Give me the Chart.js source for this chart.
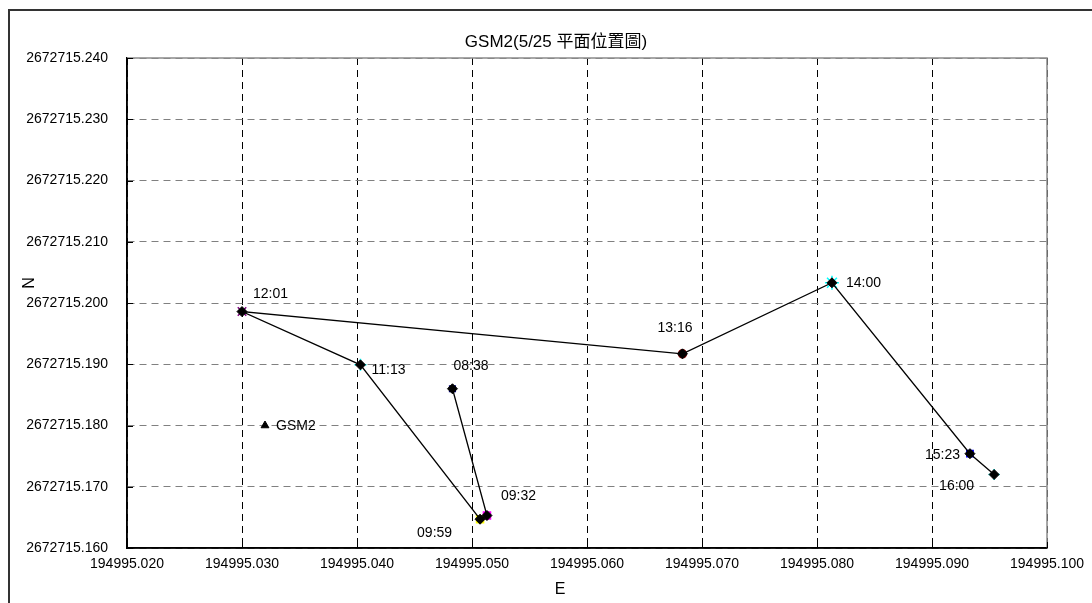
<!DOCTYPE html>
<html>
<head>
<meta charset="utf-8">
<title>GSM2(5/25 平面位置圖)</title>
<script src="https://cdn.jsdelivr.net/npm/chart.js@4/dist/chart.umd.min.js"></script>
<style>
  html, body { margin: 0; padding: 0; background: #fff; }
  #wrap { width: 1092px; height: 603px; }
</style>
</head>
<body>
<div id="wrap"><canvas id="c" width="1092" height="603"></canvas></div>
<script>
// Survey readings of GSM2 on 5/25, in time order
const timeLabels = ['08:38', '09:32', '09:59', '11:13', '12:01', '13:16', '14:00', '15:23', '16:00'];
const eastings   = [194995.0483, 194995.0513, 194995.0507, 194995.0403, 194995.0300, 194995.0683, 194995.0813, 194995.0933, 194995.0954];
const northings  = [2672715.1860, 2672715.1653, 2672715.1647, 2672715.1899, 2672715.1986, 2672715.1917, 2672715.2033, 2672715.1754, 2672715.1720];

// Reference station
const stationName = 'GSM2';
const stationE = 194995.0320;
const stationN = 2672715.1800;

// Axis ticks
const xTickValues = [194995.020, 194995.030, 194995.040, 194995.050, 194995.060, 194995.070, 194995.080, 194995.090, 194995.100];
const yTickValues = [2672715.160, 2672715.170, 2672715.180, 2672715.190, 2672715.200, 2672715.210, 2672715.220, 2672715.230, 2672715.240];

const chartTitle = 'GSM2(5/25 平面位置圖)';
const xTitle = 'E';
const yTitle = 'N';

const FONT = "'Liberation Sans', Arial, 'Noto Sans CJK TC', sans-serif";

const trackPoints = timeLabels.map((t, i) => ({ x: eastings[i], y: northings[i], t }));

// Label placement around each marker: [dx, dy] from the point to the text's left/middle
const labelOffsets = {
  '08:38': [1, -23], '09:32': [14, -19], '09:59': [-63, 14], '11:13': [11, 5],
  '12:01': [11, -17], '13:16': [-25, -26], '14:00': [14, 0], '15:23': [-45, 1],
  '16:00': [-55, 12], 'GSM2': [11, 1]
};

const pointLabels = {
  id: 'pointLabels',
  afterDatasetsDraw(chart) {
    const ctx = chart.ctx;
    ctx.save();
    ctx.font = '14px ' + FONT;
    ctx.fillStyle = '#000';
    ctx.textAlign = 'left';
    ctx.textBaseline = 'middle';
    chart.getDatasetMeta(0).data.forEach((el, i) => {
      const name = timeLabels[i];
      const [dx, dy] = labelOffsets[name];
      ctx.fillText(name, el.x + dx, el.y + dy);
    });
    const st = chart.getDatasetMeta(2).data[0];
    const [sx, sy] = labelOffsets[stationName];
    ctx.fillText(stationName, st.x + sx, st.y + sy);
    ctx.restore();
  }
};

// Chart title and axis titles
const titles = {
  id: 'titles',
  afterDraw(chart) {
    const ctx = chart.ctx;
    ctx.save();
    ctx.fillStyle = '#000';
    ctx.textAlign = 'center';
    ctx.textBaseline = 'middle';
    ctx.font = '17px ' + FONT;
    ctx.fillText(chartTitle, 556, 42);
    ctx.font = '16px ' + FONT;
    ctx.fillText(xTitle, 560, 590);
    ctx.translate(30, 283);
    ctx.rotate(-Math.PI / 2);
    ctx.fillText(yTitle, 0, 0);
    ctx.restore();
  }
};

// Plot frame, inward tick marks and the outer chart border
const frame = {
  id: 'frame',
  afterDraw(chart) {
    const { ctx, chartArea: a, scales } = chart;
    ctx.save();
    ctx.setLineDash([]);
    ctx.strokeStyle = '#8a8a8a';
    ctx.lineWidth = 1.5;
    ctx.beginPath();
    ctx.moveTo(a.left, a.top); ctx.lineTo(a.right, a.top); ctx.lineTo(a.right, a.bottom);
    ctx.stroke();
    ctx.strokeStyle = '#000';
    ctx.lineWidth = 1.5;
    ctx.beginPath();
    ctx.moveTo(a.left, a.top); ctx.lineTo(a.left, a.bottom); ctx.lineTo(a.right, a.bottom);
    ctx.stroke();
    ctx.lineWidth = 1;
    ctx.beginPath();
    scales.x.ticks.forEach(t => {
      const x = Math.round(scales.x.getPixelForValue(t.value)) + 0.5;
      ctx.moveTo(x, a.bottom); ctx.lineTo(x, a.bottom - 6);
    });
    scales.y.ticks.forEach(t => {
      const y = Math.round(scales.y.getPixelForValue(t.value)) + 0.5;
      ctx.moveTo(a.left, y); ctx.lineTo(a.left + 6, y);
    });
    ctx.stroke();
    ctx.strokeStyle = '#333';
    ctx.lineWidth = 2;
    ctx.strokeRect(9, 10, 1200, 700);
    ctx.restore();
  }
};

new Chart(document.getElementById('c'), {
  type: 'scatter',
  data: {
    datasets: [
      {
        label: 'track',
        data: trackPoints,
        showLine: true,
        borderColor: '#000',
        borderWidth: 1.3,
        pointStyle: 'rectRot',
        pointRadius: 5,
        pointBackgroundColor: '#000',
        pointBorderColor: '#000',
        pointBorderWidth: 1,
        order: 0
      },
      {
        label: 'series markers',
        data: trackPoints,
        showLine: false,
        pointStyle: ['rect', 'rect', 'rect', 'cross', 'crossRot', 'circle', 'star', 'rect', 'cross'],
        pointRadius: [4, 5, 5, 6, 6, 4, 7, 4.5, 5.5],
        pointBackgroundColor: ['#000080', '#ff00ff', '#ffff00', '#00ffff', '#800080', '#800000', '#00ffff', '#0000ff', '#00ffff'],
        pointBorderColor: ['#000080', '#ff00ff', '#ffff00', '#00ffff', '#800080', '#800000', '#00ffff', '#0000ff', '#00ffff'],
        pointBorderWidth: 1.5,
        order: 1
      },
      {
        label: stationName,
        data: [{ x: stationE, y: stationN }],
        showLine: false,
        pointStyle: 'triangle',
        pointRadius: 4.5,
        pointBackgroundColor: '#000',
        pointBorderColor: '#000',
        order: 0
      }
    ]
  },
  options: {
    responsive: false,
    animation: false,
    devicePixelRatio: 1,
    layout: { padding: { left: 0, right: 44, top: 58, bottom: 0 } },
    plugins: {
      legend: { display: false },
      tooltip: { enabled: false },
      title: { display: false }
    },
    scales: {
      x: {
        type: 'linear',
        min: xTickValues[0],
        max: xTickValues[xTickValues.length - 1],
        afterBuildTicks: s => { s.ticks = xTickValues.map(v => ({ value: v })); },
        afterFit: s => { s.height = 55; },
        ticks: {
          color: '#000',
          font: { family: FONT, size: 14 },
          padding: 8,
          maxRotation: 0,
          autoSkip: false,
          callback: v => Number(v).toFixed(3)
        },
        grid: { color: '#000', lineWidth: 1, drawTicks: false },
        border: { display: true, color: '#000', width: 1.5, dash: [7, 5] },
        title: { display: false }
      },
      y: {
        type: 'linear',
        min: yTickValues[0],
        max: yTickValues[yTickValues.length - 1],
        afterBuildTicks: s => { s.ticks = yTickValues.map(v => ({ value: v })); },
        afterFit: s => { s.width = 127; },
        ticks: {
          color: '#000',
          font: { family: FONT, size: 14 },
          padding: 19,
          autoSkip: false,
          callback: v => Number(v).toFixed(3)
        },
        grid: { color: '#808080', lineWidth: 1, drawTicks: false },
        border: { display: true, color: '#000', width: 1.5, dash: [7, 5] },
        title: { display: false }
      }
    }
  },
  plugins: [pointLabels, titles, frame]
});
</script>
</body>
</html>
